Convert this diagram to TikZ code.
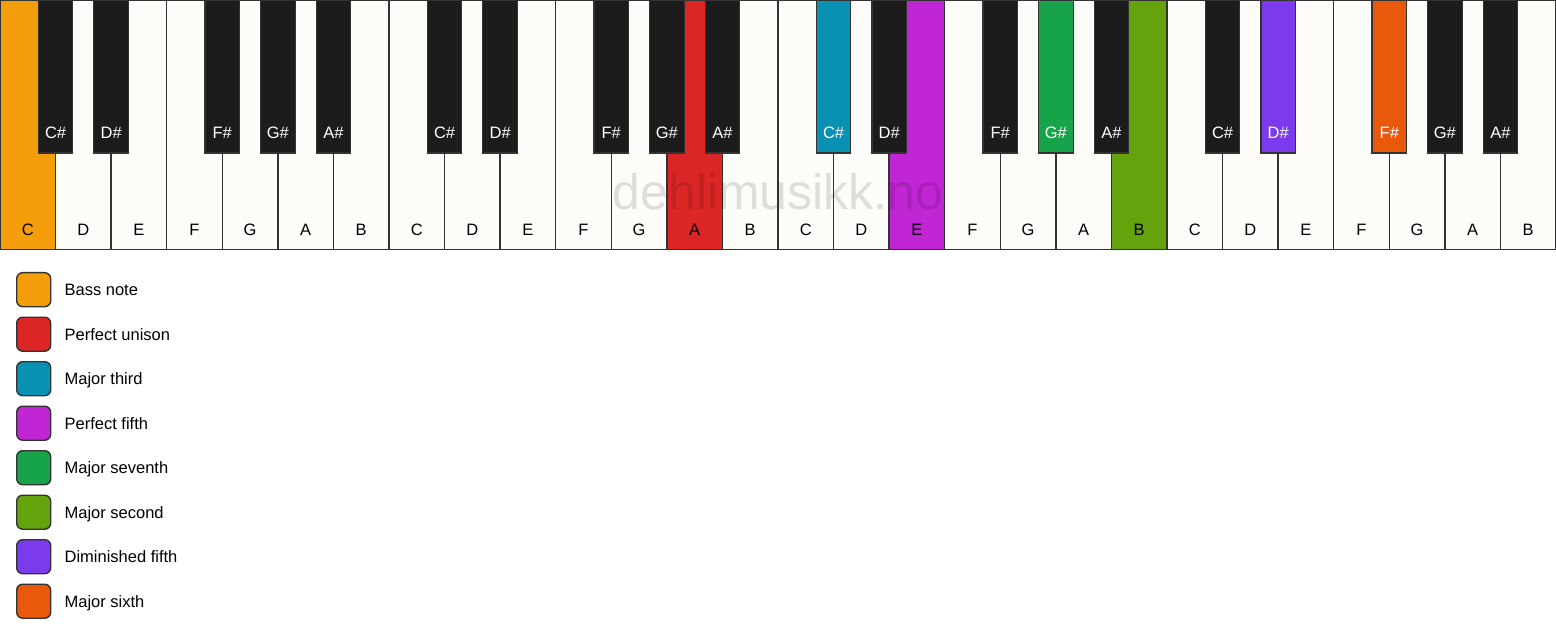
\documentclass[tikz,border=0pt]{standalone}
\usepackage{fontspec}
\setmainfont{Liberation Sans}
\definecolor{keywhite}{HTML}{FDFCF9}
\definecolor{keyblack}{HTML}{1C1C1C}
\definecolor{keyline}{HTML}{333333}
\definecolor{cbass}{HTML}{F59E0B}
\definecolor{cunison}{HTML}{DC2626}
\definecolor{cthird}{HTML}{0891B2}
\definecolor{cfifth}{HTML}{C026D3}
\definecolor{cseventh}{HTML}{16A34A}
\definecolor{csecond}{HTML}{65A30D}
\definecolor{cdim}{HTML}{7C3AED}
\definecolor{csixth}{HTML}{EA580C}
\tikzset{
  whitekey/.style={draw=keyline, line width=1.4pt, minimum width=55.5714pt, minimum height=249pt, anchor=north west, inner sep=0pt, outer sep=0pt},
  blackkey/.style={draw=keyline, line width=1.2pt, minimum width=34.5pt, minimum height=153pt, anchor=north, inner sep=0pt, outer sep=0pt},
  keytext/.style={font=\fontsize{16.5}{18}\selectfont, anchor=base, inner sep=0pt},
  legbox/.style={draw=keyline, line width=1.4pt, rounded corners=6pt, minimum size=34pt, inner sep=0pt, anchor=north west},
  legtext/.style={font=\fontsize{16.5}{18}\selectfont, anchor=base west, inner sep=0pt},
  watermark/.style={font=\fontsize{50}{55}\selectfont, anchor=base, text=black, text opacity=0.12, inner sep=0pt}
}
\begin{document}
\begin{tikzpicture}[x=1pt,y=-1pt]
\useasboundingbox (0,0) rectangle (1556,639);
% white keys
\foreach \i in {0,...,27}{
  \pgfmathsetmacro{\xx}{\i*55.5714}
  \pgfmathparse{{"C","D","E","F","G","A","B"}[mod(\i,7)]}
  \let\nm\pgfmathresult
  \def\kc{keywhite}
  \ifnum\i=0 \def\kc{cbass}\fi
  \ifnum\i=12 \def\kc{cunison}\fi
  \ifnum\i=16 \def\kc{cfifth}\fi
  \ifnum\i=20 \def\kc{csecond}\fi
  \node[whitekey, fill=\kc] (w\i) at (\xx,0.5) {};
  \node[keytext] (wl\i) at ([yshift=13.5pt]w\i.south) {\nm};
}
% black keys
\foreach \i in {0,...,27}{
  \pgfmathtruncatemacro{\m}{mod(\i,7)}
  \ifnum\m=2 \else\ifnum\m=6 \else
    \pgfmathsetmacro{\xx}{(\i+1)*55.5714}
    \pgfmathparse{{"C\#","D\#","","F\#","G\#","A\#",""}[\m]}
    \let\nm\pgfmathresult
    \def\kc{keyblack}
    \ifnum\i=14 \def\kc{cthird}\fi
    \ifnum\i=18 \def\kc{cseventh}\fi
    \ifnum\i=22 \def\kc{cdim}\fi
    \ifnum\i=24 \def\kc{csixth}\fi
    \node[blackkey, fill=\kc] (b\i) at (\xx,0) {};
    \node[keytext, text=white] (bl\i) at ([yshift=14pt]b\i.south) {\nm};
  \fi\fi
}
% watermark
\node[watermark] (wm) at (778,210) {dehlimusikk.no};
% legend
\foreach \j/\c/\t in {0/cbass/Bass note,1/cunison/Perfect unison,2/cthird/Major third,3/cfifth/Perfect fifth,4/cseventh/Major seventh,5/csecond/Major second,6/cdim/Diminished fifth,7/csixth/Major sixth}{
  \pgfmathsetmacro{\yy}{272+\j*44.5}
  \node[legbox, fill=\c] (lb\j) at (16,\yy) {};
  \node[legtext] (lt\j) at ([xshift=13pt,yshift=-6pt]lb\j.east) {\t};
}
\end{tikzpicture}
\end{document}
